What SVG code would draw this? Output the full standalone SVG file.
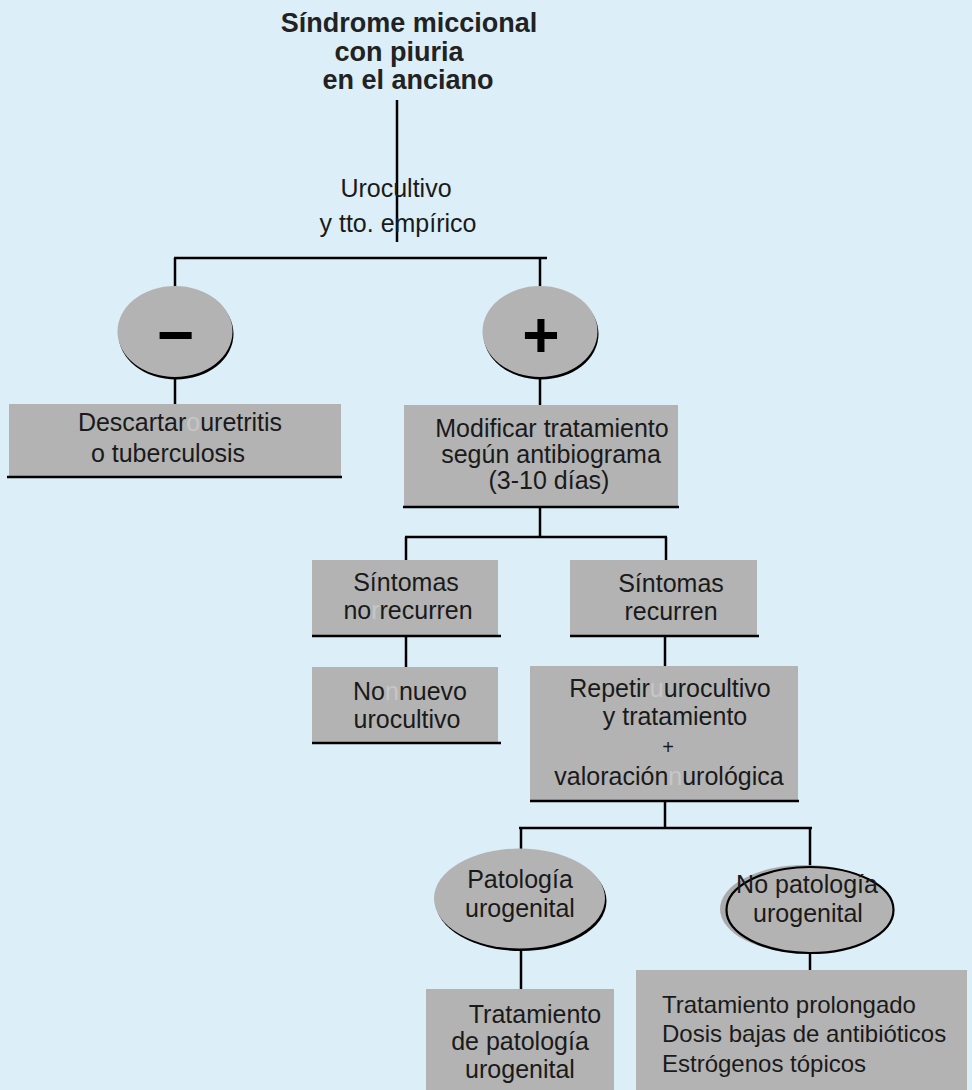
<svg xmlns="http://www.w3.org/2000/svg" width="972" height="1090" viewBox="0 0 972 1090">
<style>
.bg{fill:#DCEEF8}
.box{fill:#B3B3B3}
.base{stroke:#000;stroke-width:2.5;fill:none}
.edge{stroke:#000;stroke-width:2.5;fill:none;stroke-linecap:butt}
.ell{fill:#B3B3B3}
.shadow{fill:#000}
.t{font-family:"Liberation Sans",Arial,sans-serif;font-size:25px;fill:#1a1a1a;text-anchor:middle}
.tl{font-family:"Liberation Sans",Arial,sans-serif;font-size:24px;fill:#1a1a1a;text-anchor:start}
.title{font-family:"Liberation Sans",Arial,sans-serif;font-size:27px;font-weight:bold;fill:#222;text-anchor:middle}
.sym{font-family:"Liberation Sans",Arial,sans-serif;font-size:64px;font-weight:bold;fill:#000;text-anchor:middle}
.ghost{fill:#C6C6C6}
</style>
<rect class="bg" x="0" y="0" width="972" height="1090"/>

<g id="connectors">
<line class="edge" x1="397" y1="100" x2="397" y2="242"/>
<line class="edge" x1="174" y1="258" x2="547" y2="258"/>
<line class="edge" x1="175" y1="258" x2="175" y2="287"/>
<line class="edge" x1="540" y1="258" x2="540" y2="287"/>
<line class="edge" x1="175" y1="377" x2="175" y2="404"/>
<line class="edge" x1="540" y1="377" x2="540" y2="405"/>
<line class="edge" x1="540" y1="507" x2="540" y2="538"/>
<line class="edge" x1="405" y1="537" x2="667" y2="537"/>
<line class="edge" x1="406" y1="537" x2="406" y2="560"/>
<line class="edge" x1="666" y1="537" x2="666" y2="560"/>
<line class="edge" x1="406" y1="636" x2="406" y2="667"/>
<line class="edge" x1="665" y1="636" x2="665" y2="666"/>
<line class="edge" x1="665" y1="801" x2="665" y2="829"/>
<line class="edge" x1="519" y1="828" x2="812" y2="828"/>
<line class="edge" x1="521" y1="828" x2="521" y2="849"/>
<line class="edge" x1="810" y1="828" x2="810" y2="867"/>
<line class="edge" x1="521" y1="950" x2="521" y2="989"/>
<line class="edge" x1="810" y1="953" x2="810" y2="970"/>
</g>

<g id="title">
<text class="title" x="409" y="32">Síndrome miccional</text>
<text class="title" x="399" y="61">con piuria</text>
<text class="title" x="408" y="89">en el anciano</text>
</g>

<g id="urocultivo-label">
<text class="t" x="396" y="197">Urocultivo</text>
<text class="t" x="398" y="232">y tto. empírico</text>
</g>

<g id="negativo">
<ellipse class="shadow" cx="176" cy="334" rx="57.5" ry="45.5"/>
<ellipse class="ell" cx="175" cy="331.5" rx="57.5" ry="45.5"/>
<text class="sym" x="175.5" y="357">−</text>
</g>

<g id="positivo">
<ellipse class="shadow" cx="541" cy="334" rx="57.5" ry="45.5"/>
<ellipse class="ell" cx="540" cy="331.5" rx="57.5" ry="45.5"/>
<text class="sym" x="541" y="357">+</text>
</g>

<g id="descartar">
<rect class="box" x="9" y="404" width="332" height="73"/>
<line class="base" x1="7" y1="477" x2="342" y2="477"/>
<text class="t" x="180" y="431">Descartar<tspan class="ghost">o</tspan>uretritis</text>
<text class="t" x="168" y="462">o tuberculosis</text>
</g>

<g id="modificar">
<rect class="box" x="404" y="405" width="274" height="102"/>
<line class="base" x1="403" y1="507" x2="679" y2="507"/>
<text class="t" x="552" y="437">Modificar tratamiento</text>
<text class="t" x="551" y="463">según antibiograma</text>
<text class="t" x="549" y="489">(3-10 días)</text>
</g>

<g id="no-recurren">
<rect class="box" x="312" y="560" width="186" height="76"/>
<line class="base" x1="312" y1="636" x2="501" y2="636"/>
<text class="t" x="406" y="591">Síntomas</text>
<text class="t" x="408" y="619">no<tspan class="ghost">r</tspan>recurren</text>
</g>

<g id="no-nuevo">
<rect class="box" x="312" y="667" width="186" height="76"/>
<line class="base" x1="312" y1="743" x2="501" y2="743"/>
<text class="t" x="410" y="700">No<tspan class="ghost">n</tspan>nuevo</text>
<text class="t" x="407" y="728">urocultivo</text>
</g>

<g id="recurren">
<rect class="box" x="570" y="560" width="187" height="76"/>
<line class="base" x1="570" y1="636" x2="759" y2="636"/>
<text class="t" x="671" y="592">Síntomas</text>
<text class="t" x="671" y="620">recurren</text>
</g>

<g id="repetir">
<rect class="box" x="530" y="666" width="268" height="135"/>
<line class="base" x1="530" y1="801" x2="799" y2="801"/>
<text class="t" x="670" y="697">Repetir<tspan class="ghost">u</tspan>urocultivo</text>
<text class="t" x="675" y="725">y tratamiento</text>
<text class="t" x="668" y="754" style="font-size:20px">+</text>
<text class="t" x="669" y="785">valoración<tspan class="ghost">n</tspan>urológica</text>
</g>

<g id="patologia">
<ellipse class="shadow" cx="521" cy="901" rx="85.5" ry="50"/>
<ellipse class="ell" cx="519.5" cy="898.5" rx="85.5" ry="50"/>
<text class="t" x="520" y="888">Patología</text>
<text class="t" x="520" y="917">urogenital</text>
</g>

<g id="no-patologia">
<ellipse cx="805" cy="909" rx="85" ry="44" fill="#ABABAB"/>
<ellipse class="ell" cx="810" cy="910" rx="83.5" ry="43" stroke="#000" stroke-width="2.2"/>
<text class="t" x="807" y="893">No patología</text>
<text class="t" x="808" y="922">urogenital</text>
</g>

<g id="tratamiento-patologia">
<rect class="box" x="426" y="989" width="188" height="101"/>
<text class="t" x="535" y="1023">Tratamiento</text>
<text class="t" x="520" y="1050">de patología</text>
<text class="t" x="520" y="1078">urogenital</text>
</g>

<g id="tratamiento-prolongado">
<rect class="box" x="636" y="970" width="331" height="120"/>
<text class="tl" x="662" y="1013">Tratamiento prolongado</text>
<text class="tl" x="662" y="1042">Dosis bajas de antibióticos</text>
<text class="tl" x="662" y="1072">Estrógenos tópicos</text>
</g>
</svg>
